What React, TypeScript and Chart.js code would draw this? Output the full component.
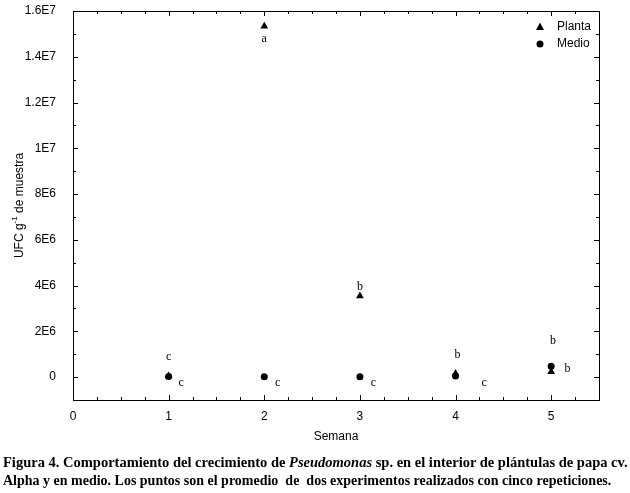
import React, { useEffect, useRef } from "react";
import { Chart, registerables } from "chart.js";

Chart.register(...registerables);

const weeks = [1, 2, 3, 4, 5];
const planta = [50000, 15330000, 3540000, 160000, 230000];
const medio = [30000, 20000, 20000, 50000, 480000];
const yTickValues = [0, 2e6, 4e6, 6e6, 8e6, 1e7, 1.2e7, 1.4e7, 1.6e7];
const yTickLabels = ["0", "2E6", "4E6", "6E6", "8E6", "1E7", "1.2E7", "1.4E7", "1.6E7"];
const xTickValues = [0, 1, 2, 3, 4, 5];
const letterTexts = ["a", "b", "c", "c", "c", "c", "c", "b", "b", "b"];
const letterX = [2.0, 3.0, 1.0, 1.13, 2.14, 3.14, 4.3, 4.02, 5.02, 5.17];
const letterY = [14.78e6, 3.93e6, 0.87e6, -0.26e6, -0.26e6, -0.26e6, -0.26e6, 0.96e6, 1.57e6, 0.35e6];
const seriesNames = ["Planta", "Medio"];

const SANS = '"Liberation Sans", Arial, sans-serif';
const SERIF = '"Liberation Serif", "Times New Roman", serif';

const decorPlugin = {
  id: "decor",
  afterDraw(chart: any) {
    const ctx = chart.ctx;
    const { left, right, top, bottom } = chart.chartArea;
    const xs = chart.scales.x;
    const ys = chart.scales.y;
    ctx.save();
    ctx.strokeStyle = "#000";
    ctx.lineWidth = 1;
    ctx.strokeRect(Math.round(left) + 0.5, Math.round(top) + 0.5, Math.round(right - left), Math.round(bottom - top));
    ctx.beginPath();
    for (let v = 0; v <= 5.5 + 1e-9; v += 0.25) {
      const major = Math.abs(v - Math.round(v)) < 1e-9;
      const len = major ? 5 : 3;
      const px = Math.round(xs.getPixelForValue(v)) + 0.5;
      ctx.moveTo(px, bottom);
      ctx.lineTo(px, bottom - len);
      ctx.moveTo(px, top);
      ctx.lineTo(px, top + len);
    }
    for (let v = -1e6; v <= 1.6e7 + 1; v += 1e6) {
      const major = Math.round(v / 1e6) % 2 === 0;
      const len = major ? 5 : 3;
      const py = Math.round(ys.getPixelForValue(v)) + 0.5;
      ctx.moveTo(left, py);
      ctx.lineTo(left + len, py);
      ctx.moveTo(right, py);
      ctx.lineTo(right - len, py);
    }
    ctx.stroke();

    ctx.fillStyle = "#000";
    ctx.font = "12px " + SERIF;
    ctx.textAlign = "center";
    ctx.textBaseline = "middle";
    letterTexts.forEach((t, i) => {
      ctx.fillText(t, xs.getPixelForValue(letterX[i]), ys.getPixelForValue(letterY[i]));
    });

    ctx.font = "12px " + SANS;
    ctx.textAlign = "left";
    const lx = 540;
    const ly1 = 27;
    const ly2 = 44;
    ctx.beginPath();
    ctx.moveTo(lx, ly1 - 4.5);
    ctx.lineTo(lx + 4, ly1 + 3);
    ctx.lineTo(lx - 4, ly1 + 3);
    ctx.closePath();
    ctx.fill();
    ctx.beginPath();
    ctx.arc(lx, ly2, 3.5, 0, Math.PI * 2);
    ctx.fill();
    ctx.fillText(seriesNames[0], 557, ly1);
    ctx.fillText(seriesNames[1], 557, ly2);

    ctx.textAlign = "center";
    ctx.fillText("Semana", (left + right) / 2, 437);
    ctx.translate(20, (top + bottom) / 2);
    ctx.rotate(-Math.PI / 2);
    const p1 = "UFC g";
    const sup = "-1";
    const p2 = " de muestra";
    ctx.font = "12px " + SANS;
    const w1 = ctx.measureText(p1).width;
    const w3 = ctx.measureText(p2).width;
    ctx.font = "8px " + SANS;
    const w2 = ctx.measureText(sup).width;
    const total = w1 + w2 + w3;
    let cx = -total / 2;
    ctx.textAlign = "left";
    ctx.font = "12px " + SANS;
    ctx.fillText(p1, cx, 0);
    cx += w1;
    ctx.font = "8px " + SANS;
    ctx.fillText(sup, cx, -5);
    cx += w2;
    ctx.font = "12px " + SANS;
    ctx.fillText(p2, cx, 0);
    ctx.restore();
  },
};

export default function App() {
  const ref = useRef<HTMLCanvasElement>(null);
  useEffect(() => {
    const canvas = ref.current;
    if (!canvas) return;
    const chart = new Chart(canvas, {
      type: "scatter",
      data: {
        datasets: [
          {
            label: seriesNames[0],
            data: weeks.map((w, i) => ({ x: w, y: planta[i] })),
            pointStyle: "triangle",
            pointRadius: 4.5,
            backgroundColor: "#000",
            borderColor: "#000",
            borderWidth: 0,
          },
          {
            label: seriesNames[1],
            data: weeks.map((w, i) => ({ x: w, y: medio[i] })),
            pointStyle: "circle",
            pointRadius: 3.5,
            backgroundColor: "#000",
            borderColor: "#000",
            borderWidth: 0,
          },
        ],
      },
      options: {
        animation: false,
        responsive: false,
        layout: { padding: { left: 0, right: 31, top: 11, bottom: 0 } },
        plugins: { legend: { display: false }, tooltip: { enabled: false } },
        scales: {
          x: {
            type: "linear",
            min: 0,
            max: 5.5,
            grid: { display: false, drawTicks: false },
            border: { display: false },
            afterBuildTicks: (s: any) => {
              s.ticks = xTickValues.map((v) => ({ value: v }));
            },
            afterFit: (s: any) => {
              s.height = 48;
              s.paddingLeft = 0;
              s.paddingRight = 0;
            },
            ticks: {
              padding: 9,
              color: "#000",
              font: { family: SANS, size: 12 },
              maxRotation: 0,
              callback: (v: any) => String(v),
            },
          },
          y: {
            type: "linear",
            min: -1e6,
            max: 1.6e7,
            grid: { display: false, drawTicks: false },
            border: { display: false },
            afterBuildTicks: (s: any) => {
              s.ticks = yTickValues.map((v) => ({ value: v }));
            },
            afterFit: (s: any) => {
              s.width = 73;
              s.paddingTop = 0;
              s.paddingBottom = 0;
            },
            ticks: {
              padding: 17,
              color: "#000",
              font: { family: SANS, size: 12 },
              callback: (v: any) => {
                const i = yTickValues.indexOf(Number(v));
                return i >= 0 ? yTickLabels[i] : "";
              },
            },
          },
        },
      },
      plugins: [decorPlugin],
    } as any);
    return () => chart.destroy();
  }, []);

  return (
    <div style={{ position: "fixed", left: 0, top: 0, width: 630, height: 493, background: "#fff" }}>
      <canvas ref={ref} width={630} height={448} style={{ display: "block", width: 630, height: 448 }} />
      <div
        style={{
          position: "absolute",
          left: 3,
          top: 453,
          fontFamily: SERIF,
          fontWeight: "bold",
          fontSize: 14.5,
          lineHeight: "18px",
          color: "#000",
          whiteSpace: "nowrap",
        }}
      >
        <div>
          Figura 4. Comportamiento del crecimiento de <i>Pseudomonas</i> sp. en el interior de plántulas de papa cv.
        </div>
        <div style={{ transform: "scaleX(0.965)", transformOrigin: "0 0" }}>
          Alpha y en medio. Los puntos son el promedio&nbsp; de&nbsp; dos experimentos realizados con cinco repeticiones.
        </div>
      </div>
    </div>
  );
}
